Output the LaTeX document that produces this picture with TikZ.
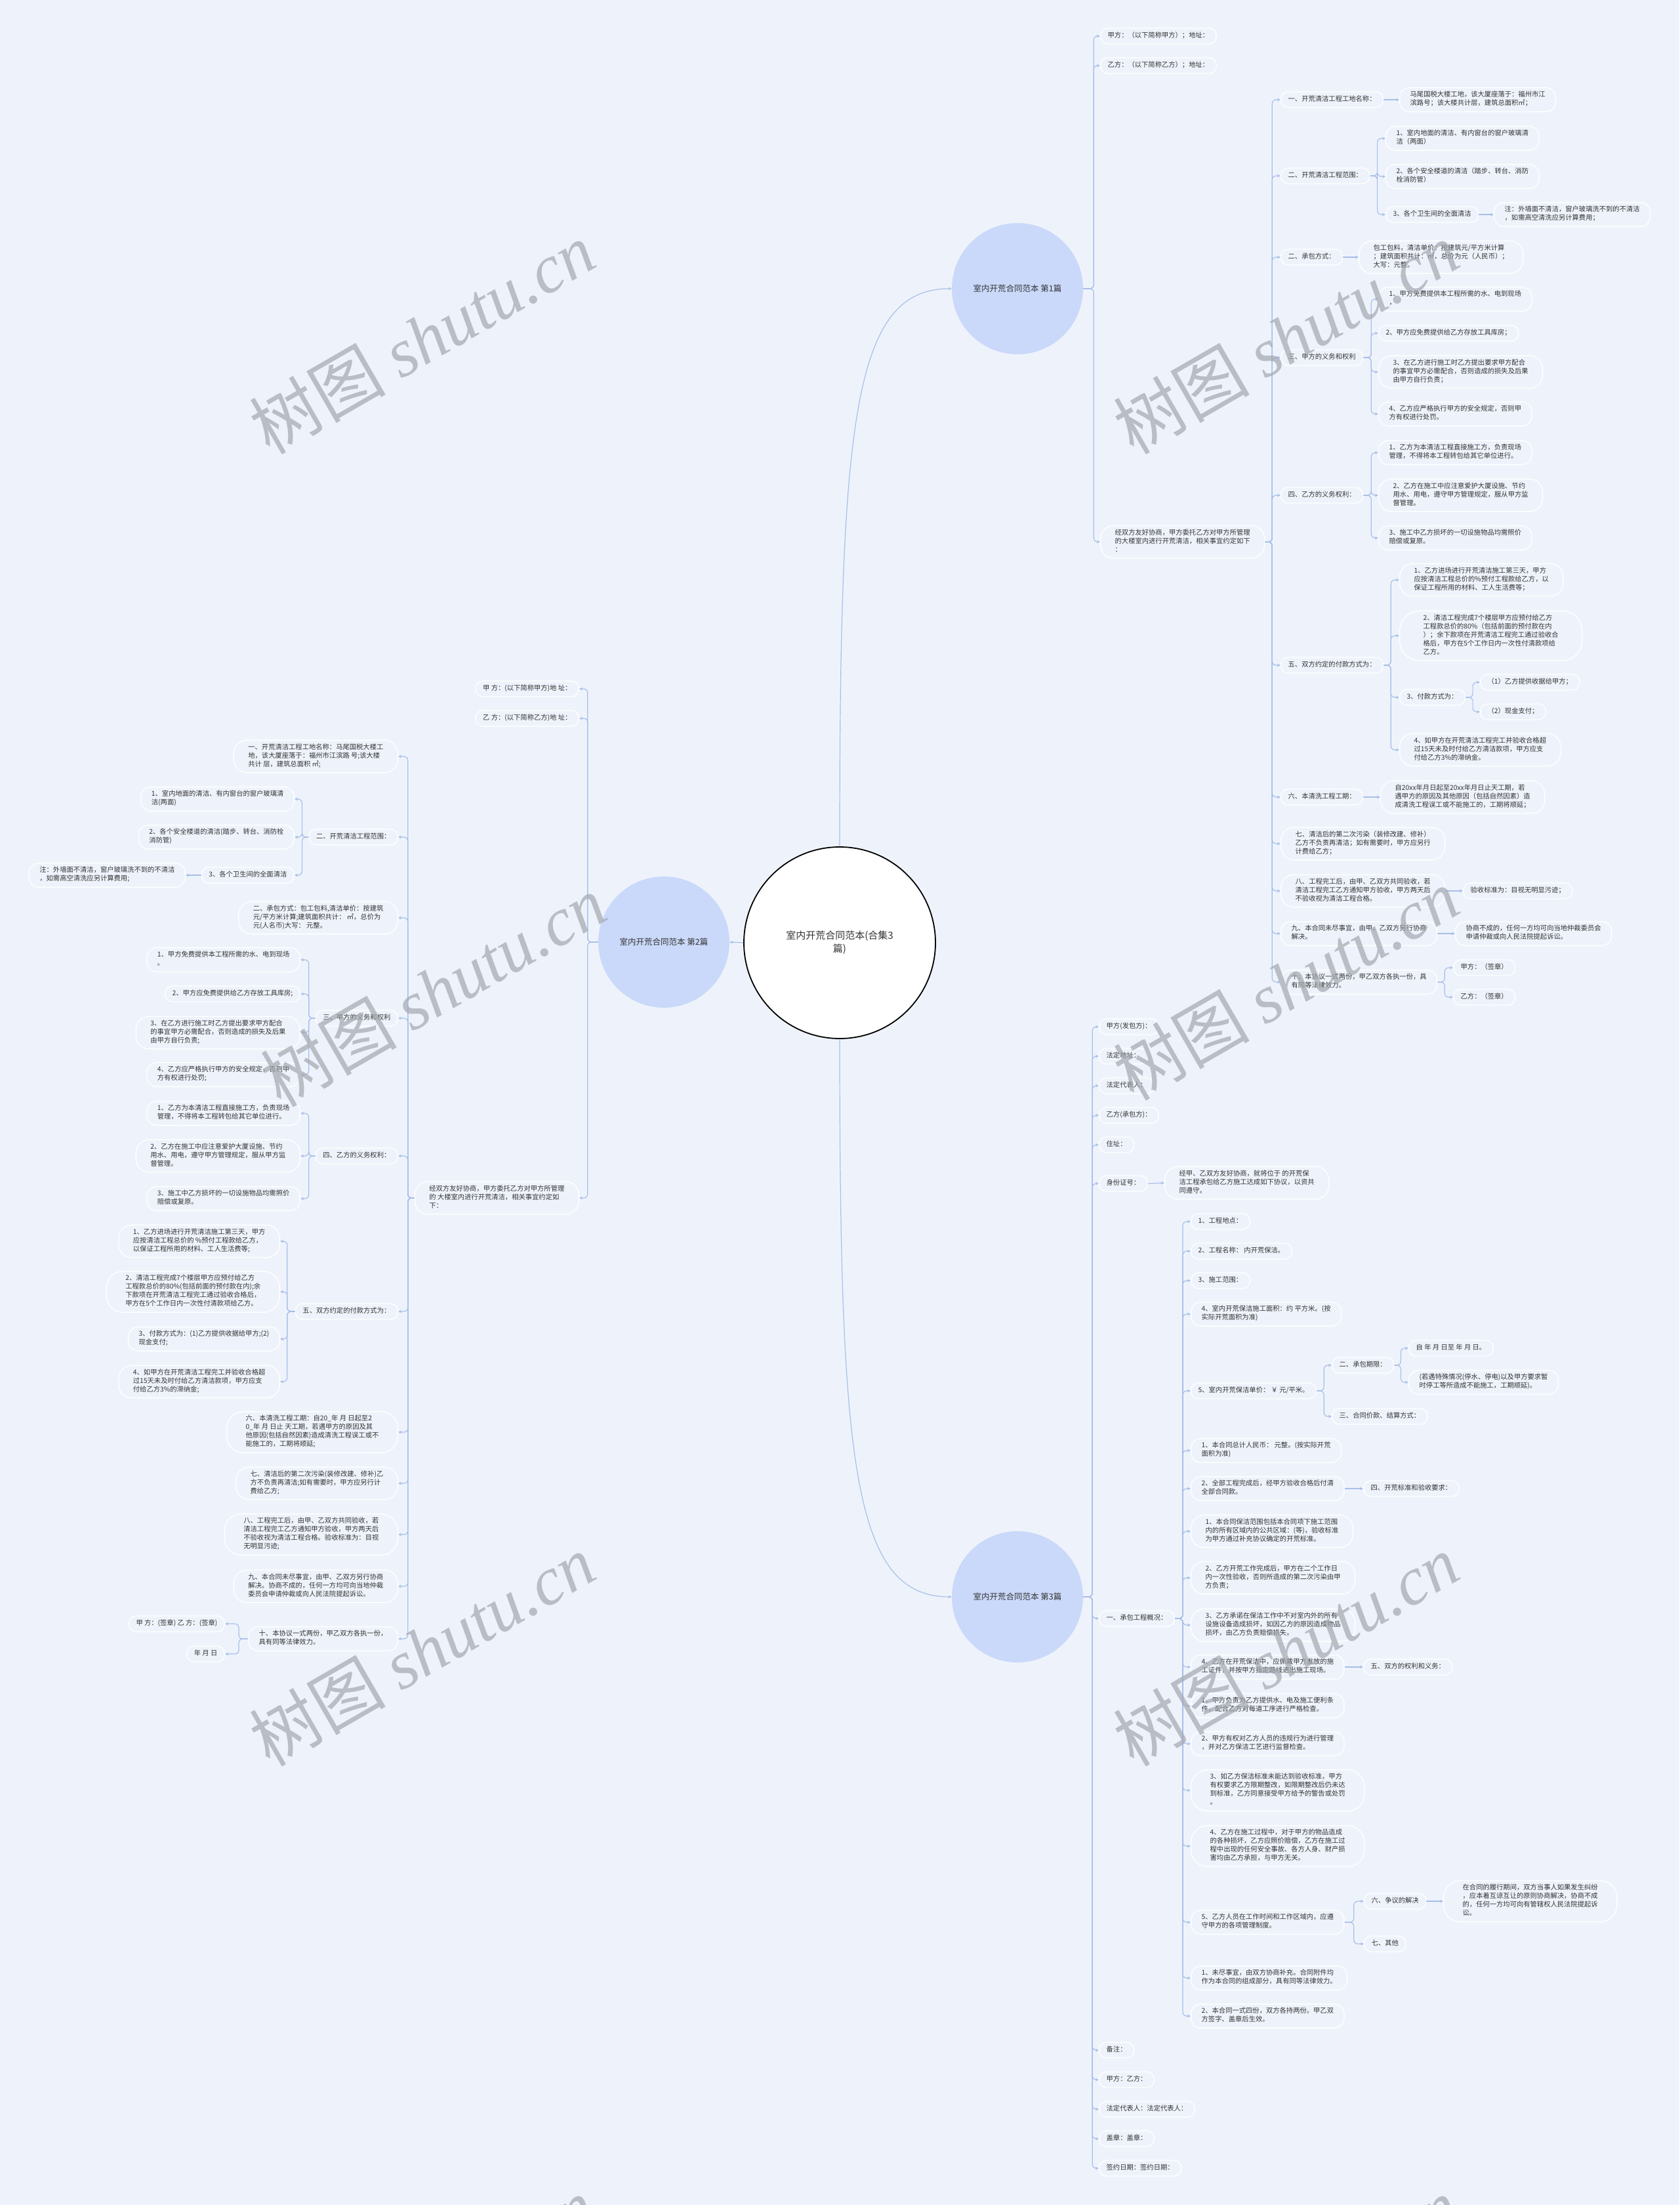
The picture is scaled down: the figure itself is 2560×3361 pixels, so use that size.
\documentclass[tikz,border=0pt]{standalone}
\usepackage{fontspec}
\setmainfont{Noto Sans CJK SC}
\newfontfamily\wmlat{Liberation Serif}
\newfontfamily\wmcjk{Noto Sans CJK SC}
\usetikzlibrary{arrows.meta}
\definecolor{bgc}{HTML}{EEF3FB}
\definecolor{lc}{HTML}{A8BEEA}
\definecolor{txt}{HTML}{333333}
\definecolor{brc}{HTML}{CAD9FA}
\definecolor{wmc}{HTML}{A3A7AF}
\newcommand\fsn{\fontsize{10.3}{13}\selectfont}
\newcommand\rcn[3]{\draw[conn] (#1.east) -- ++(#3,0) |- (#2.west);}
\newcommand\lcn[3]{\draw[conn] (#1.west) -- ++(-#3,0) |- (#2.east);}
\begin{document}
\begin{tikzpicture}[x=1pt,y=-1pt,
 bx/.style={draw=white, line width=1.3pt, fill=bgc, inner ysep=5.5pt, align=left, font=\fsn, text=txt, execute at begin node=\strut, execute at end node=\strut},
 L1/.style={bx, inner xsep=11pt, rounded corners=11pt},
 L2/.style={bx, inner xsep=16pt, rounded corners=15pt},
 L3/.style={bx, inner xsep=22pt, rounded corners=20pt},
 L4/.style={bx, inner xsep=29pt, rounded corners=25pt},
 L5/.style={bx, inner xsep=36pt, rounded corners=30pt},
 rw/.style={anchor=west}, le/.style={anchor=east},
 conn/.style={draw=lc, line width=1.2pt, rounded corners=6pt, -{Stealth[length=5pt,width=4.5pt]}},
 branch/.style={circle, fill=brc, minimum size=200pt, inner sep=0pt, font=\fontsize{12.5}{15}\selectfont, text=txt},
 wm/.style={rotate=30, text=wmc, opacity=0.7, font=\fontsize{104}{110}\selectfont}
]
\fill[bgc] (0,0) rectangle (2560,3361);
\useasboundingbox (0,0) rectangle (2560,3361);
\clip (0,0) rectangle (2560,3361);

% central and branch nodes
\node[circle, draw=black, line width=1.8pt, fill=white, minimum size=292pt, inner sep=0pt, align=center, font=\fontsize{15}{20}\selectfont, text=txt] (c) at (1280,1437) {室内开荒合同范本(合集3\\篇)};
\node[branch] (b1) at (1551,440) {室内开荒合同范本 第1篇};
\node[branch] (b2) at (1012,1436) {室内开荒合同范本 第2篇};
\node[branch] (b3) at (1551,2434) {室内开荒合同范本 第3篇};

% ---------- branch 1 ----------
\node[L1,rw] (a1) at (1677,55) {甲方：（以下简称甲方）；地址：};
\node[L1,rw] (a2) at (1677,100) {乙方：（以下简称乙方）；地址：};
\node[L3,rw] (a3) at (1677,826) {经双方友好协商，甲方委托乙方对甲方所管理\\的大楼室内进行开荒清洁，相关事宜约定如下\\：};
\node[L1,rw] (s1) at (1952,152) {一、开荒清洁工程工地名称：};
\node[L2,rw] (s1a) at (2133,152) {马尾国税大楼工地，该大厦座落于：福州市江\\滨路号；该大楼共计层，建筑总面积㎡；};
\node[L1,rw] (s2) at (1952,268) {二、开荒清洁工程范围：};
\node[L2,rw] (s2a) at (2112,211) {1、室内地面的清洁、有内窗台的窗户玻璃清\\洁（两面）};
\node[L2,rw] (s2b) at (2112,269) {2、各个安全楼道的清洁（踏步、转台、消防\\栓消防管）};
\node[L1,rw] (s2c) at (2112,327) {3、各个卫生间的全面清洁};
\node[L2,rw] (s2d) at (2277,327) {注：外墙面不清洁，窗户玻璃洗不到的不清洁\\，如需高空清洗应另计算费用；};
\node[L1,rw] (s3) at (1952,392) {二、承包方式：};
\node[L3,rw] (s3a) at (2071,392) {包工包料，清洁单价：按建筑元/平方米计算\\；建筑面积共计：㎡，总价为元（人民币）；\\大写：元整。};
\node[L1,rw] (s4) at (1952,545) {三、甲方的义务和权利};
\node[L2,rw] (s4a) at (2101,456) {1、甲方免费提供本工程所需的水、电到现场\\，};
\node[L1,rw] (s4b) at (2101,508) {2、甲方应免费提供给乙方存放工具库房；};
\node[L3,rw] (s4c) at (2101,567) {3、在乙方进行施工时乙方提出要求甲方配合\\的事宜甲方必需配合，否则造成的损失及后果\\由甲方自行负责；};
\node[L2,rw] (s4d) at (2101,631) {4、乙方应严格执行甲方的安全规定，否则甲\\方有权进行处罚。};
\node[L1,rw] (s5) at (1952,755) {四、乙方的义务权利：};
\node[L2,rw] (s5a) at (2101,690) {1、乙方为本清洁工程直接施工方，负责现场\\管理，不得将本工程转包给其它单位进行。};
\node[L3,rw] (s5b) at (2101,755) {2、乙方在施工中应注意爱护大厦设施、节约\\用水、用电，遵守甲方管理规定，服从甲方监\\督管理。};
\node[L2,rw] (s5c) at (2101,820) {3、施工中乙方损坏的一切设施物品均需照价\\赔偿或复原。};
\node[L1,rw] (s6) at (1952,1014) {五、双方约定的付款方式为：};
\node[L3,rw] (s6a) at (2133,884) {1、乙方进场进行开荒清洁施工第三天，甲方\\应按清洁工程总价的\%预付工程款给乙方，以\\保证工程所用的材料、工人生活费等；};
\node[L5,rw] (s6b) at (2133,969) {2、清洁工程完成7个楼层甲方应预付给乙方\\工程款总价的80\%（包括前面的预付款在内\\）；余下款项在开荒清洁工程完工通过验收合\\格后，甲方在5个工作日内一次性付清款项给\\乙方。};
\node[L1,rw] (s6c) at (2133,1063) {3、付款方式为：};
\node[L1,rw] (s6c1) at (2256,1040) {（1）乙方提供收据给甲方；};
\node[L1,rw] (s6c2) at (2256,1085) {（2）现金支付；};
\node[L3,rw] (s6d) at (2133,1143) {4、如甲方在开荒清洁工程完工并验收合格超\\过15天未及时付给乙方清洁款项，甲方应支\\付给乙方3\%的滞纳金。};
\node[L1,rw] (s7) at (1952,1215) {六、本清洗工程工期：};
\node[L3,rw] (s7a) at (2104,1215) {自20xx年月日起至20xx年月日止天工期，若\\遇甲方的原因及其他原因（包括自然因素）造\\成清洗工程误工或不能施工的，工期将顺延；};
\node[L3,rw] (s8) at (1952,1286) {七、清洁后的第二次污染（装修改建、修补）\\乙方不负责再清洁；如有需要时，甲方应另行\\计费给乙方；};
\node[L3,rw] (s9) at (1952,1358) {八、工程完工后，由甲、乙双方共同验收，若\\清洁工程完工乙方通知甲方验收，甲方两天后\\不验收视为清洁工程合格。};
\node[L1,rw] (s9a) at (2230,1358) {验收标准为：目视无明显污迹；};
\node[L2,rw] (s10) at (1952,1423) {九、本合同未尽事宜，由甲、乙双方另行协商\\解决。};
\node[L2,rw] (s10a) at (2218,1423) {协商不成的，任何一方均可向当地仲裁委员会\\申请仲裁或向人民法院提起诉讼。};
\node[L2,rw] (s11) at (1952,1497) {十、本协议一式两份，甲乙双方各执一份，具\\有同等法律效力。};
\node[L1,rw] (s11a) at (2215,1475) {甲方：（签章）};
\node[L1,rw] (s11b) at (2215,1520) {乙方：（签章）};

% ---------- branch 3 ----------
\node[L1,rw] (c1) at (1675,1565) {甲方(发包方)：};
\node[L1,rw] (c2) at (1675,1610) {法定地址：};
\node[L1,rw] (c3) at (1675,1655) {法定代表人：};
\node[L1,rw] (c4) at (1675,1700) {乙方(承包方)：};
\node[L1,rw] (c5) at (1675,1745) {住址：};
\node[L1,rw] (c6) at (1675,1804) {身份证号：};
\node[L3,rw] (c6a) at (1775,1803) {经甲、乙双方友好协商，就将位于 的开荒保\\洁工程承包给乙方施工达成如下协议，以资共\\同遵守。};
\node[L1,rw] (c7) at (1675,2467) {一、承包工程概况：};
\node[L1,rw] (c8) at (1675,3125) {备注：};
\node[L1,rw] (c9) at (1675,3170) {甲方：乙方：};
\node[L1,rw] (c10) at (1675,3215) {法定代表人：法定代表人：};
\node[L1,rw] (c11) at (1675,3260) {盖章：盖章：};
\node[L1,rw] (c12) at (1675,3305) {签约日期：签约日期：};

\node[L1,rw] (d1) at (1815,1862) {1、工程地点：};
\node[L1,rw] (d2) at (1815,1907) {2、工程名称： 内开荒保洁。};
\node[L1,rw] (d3) at (1815,1952) {3、施工范围：};
\node[L2,rw] (d4) at (1815,2003) {4、室内开荒保洁施工面积：约 平方米。(按\\实际开荒面积为准)};
\node[L1,rw] (d5) at (1815,2120) {5、室内开荒保洁单价： ￥ 元/平米。};
\node[L1,rw] (d5a) at (2030,2081) {二、承包期限：};
\node[L1,rw] (d5a1) at (2147,2055) {自 年 月 日至 年 月 日。};
\node[L2,rw] (d5a2) at (2147,2107) {(若遇特殊情况(停水、停电)以及甲方要求暂\\时停工等所造成不能施工，工期顺延)。};
\node[L1,rw] (d5b) at (2030,2159) {三、合同价款、结算方式：};
\node[L2,rw] (d6) at (1815,2211) {1、本合同总计人民币： 元整。(按实际开荒\\面积为准)};
\node[L2,rw] (d7) at (1815,2269) {2、全部工程完成后，经甲方验收合格后付清\\全部合同款。};
\node[L1,rw] (d7a) at (2078,2269) {四、开荒标准和验收要求：};
\node[L3,rw] (d8) at (1815,2334) {1、本合同保洁范围包括本合同项下施工范围\\内的所有区域内的公共区域：(等)，验收标准\\为甲方通过补充协议确定的开荒标准。};
\node[L3,rw] (d9) at (1815,2405) {2、乙方开荒工作完成后，甲方在二个工作日\\内一次性验收，否则所造成的第二次污染由甲\\方负责；};
\node[L3,rw] (d10) at (1815,2477) {3、乙方承诺在保洁工作中不对室内外的所有\\设施设备造成损坏，如因乙方的原因造成物品\\损坏，由乙方负责赔偿损失。};
\node[L2,rw] (d11) at (1815,2541) {4、乙方在开荒保洁中，应佩戴甲方发放的施\\工证件，并按甲方指定路线进出施工现场。};
\node[L1,rw] (d11a) at (2078,2541) {五、双方的权利和义务：};
\node[L2,rw] (d12) at (1815,2600) {1、甲方负责为乙方提供水、电及施工便利条\\件，配合乙方对每道工序进行严格检查。};
\node[L2,rw] (d13) at (1815,2658) {2、甲方有权对乙方人员的违规行为进行管理\\，并对乙方保洁工艺进行监督检查。};
\node[L4,rw] (d14) at (1815,2729) {3、如乙方保洁标准未能达到验收标准，甲方\\有权要求乙方限期整改，如限期整改后仍未达\\到标准，乙方同意接受甲方给予的警告或处罚\\。};
\node[L4,rw] (d15) at (1815,2814) {4、乙方在施工过程中，对于甲方的物品造成\\的各种损坏，乙方应照价赔偿，乙方在施工过\\程中出现的任何安全事故、各方人身、财产损\\害均由乙方承担，与甲方无关。};
\node[L2,rw] (d16) at (1815,2930) {5、乙方人员在工作时间和工作区域内，应遵\\守甲方的各项管理制度。};
\node[L1,rw] (d16a) at (2079,2898) {六、争议的解决};
\node[L4,rw] (d16a1) at (2200,2898) {在合同的履行期间，双方当事人如果发生纠纷\\，应本着互谅互让的原则协商解决，协商不成\\的，任何一方均可向有管辖权人民法院提起诉\\讼。};
\node[L1,rw] (d16b) at (2079,2963) {七、其他};
\node[L2,rw] (d17) at (1815,3015) {1、未尽事宜，由双方协商补充。合同附件均\\作为本合同的组成部分，具有同等法律效力。};
\node[L2,rw] (d18) at (1815,3073) {2、本合同一式四份，双方各持两份。甲乙双\\方签字、盖章后生效。};

% ---------- branch 2 ----------
\node[L1,le] (e1) at (883,1050) {甲 方：(以下简称甲方)地 址：};
\node[L1,le] (e2) at (883,1095) {乙 方：(以下简称乙方)地 址：};
\node[L3,le] (e3) at (883,1826) {经双方友好协商，甲方委托乙方对甲方所管理\\的 大楼室内进行开荒清洁，相关事宜约定如\\下：};
\node[L3,le] (f1) at (607,1153) {一、开荒清洁工程工地名称：马尾国税大楼工\\地，该大厦座落于：福州市江滨路 号;该大楼\\共计 层，建筑总面积 ㎡;};
\node[L1,le] (f2) at (607,1276) {二、开荒清洁工程范围：};
\node[L2,le] (f2a) at (449,1218) {1、室内地面的清洁、有内窗台的窗户玻璃清\\洁(两面)};
\node[L2,le] (f2b) at (449,1276) {2、各个安全楼道的清洁(踏步、转台、消防栓\\消防管)};
\node[L1,le] (f2c) at (449,1334) {3、各个卫生间的全面清洁};
\node[L2,le] (f2d) at (283,1334) {注：外墙面不清洁，窗户玻璃洗不到的不清洁\\，如需高空清洗应另计算费用;};
\node[L3,le] (f3) at (607,1399) {二、承包方式：包工包料,清洁单价：按建筑\\元/平方米计算;建筑面积共计： ㎡，总价为\\元(人名币)大写： 元整。};
\node[L1,le] (f4) at (607,1552) {三、甲方的义务和权利};
\node[L2,le] (f4a) at (458,1463) {1、甲方免费提供本工程所需的水、电到现场\\。};
\node[L1,le] (f4b) at (458,1515) {2、甲方应免费提供给乙方存放工具库房;};
\node[L3,le] (f4c) at (458,1574) {3、在乙方进行施工时乙方提出要求甲方配合\\的事宜甲方必需配合，否则造成的损失及后果\\由甲方自行负责;};
\node[L2,le] (f4d) at (458,1638) {4、乙方应严格执行甲方的安全规定，否则甲\\方有权进行处罚;};
\node[L1,le] (f5) at (607,1762) {四、乙方的义务权利：};
\node[L2,le] (f5a) at (458,1697) {1、乙方为本清洁工程直接施工方，负责现场\\管理，不得将本工程转包给其它单位进行。};
\node[L3,le] (f5b) at (458,1762) {2、乙方在施工中应注意爱护大厦设施、节约\\用水、用电，遵守甲方管理规定，服从甲方监\\督管理。};
\node[L2,le] (f5c) at (458,1827) {3、施工中乙方损坏的一切设施物品均需照价\\赔偿或复原。};
\node[L1,le] (f6) at (607,1999) {五、双方约定的付款方式为：};
\node[L3,le] (f6a) at (427,1892) {1、乙方进场进行开荒清洁施工第三天，甲方\\应按清洁工程总价的 \%预付工程款给乙方，\\以保证工程所用的材料、工人生活费等;};
\node[L4,le] (f6b) at (427,1969) {2、清洁工程完成7个楼层甲方应预付给乙方\\工程款总价的80\%(包括前面的预付款在内);余\\下款项在开荒清洁工程完工通过验收合格后，\\甲方在5个工作日内一次性付清款项给乙方。};
\node[L2,le] (f6c) at (427,2041) {3、付款方式为：(1)乙方提供收据给甲方;(2)\\现金支付;};
\node[L3,le] (f6d) at (427,2106) {4、如甲方在开荒清洁工程完工并验收合格超\\过15天未及时付给乙方清洁款项，甲方应支\\付给乙方3\%的滞纳金;};
\node[L4,le] (f7) at (607,2183) {六、本清洗工程工期：自20\_年 月 日起至2\\0\_年 月 日止 天工期，若遇甲方的原因及其\\他原因(包括自然因素)造成清洗工程误工或不\\能施工的，工期将顺延;};
\node[L3,le] (f8) at (607,2261) {七、清洁后的第二次污染(装修改建、修补)乙\\方不负责再清洁;如有需要时，甲方应另行计\\费给乙方;};
\node[L4,le] (f9) at (607,2339) {八、工程完工后，由甲、乙双方共同验收，若\\清洁工程完工乙方通知甲方验收，甲方两天后\\不验收视为清洁工程合格。验收标准为：目视\\无明显污迹;};
\node[L3,le] (f10) at (607,2418) {九、本合同未尽事宜，由甲、乙双方另行协商\\解决。协商不成的，任何一方均可向当地仲裁\\委员会申请仲裁或向人民法院提起诉讼。};
\node[L2,le] (f11) at (607,2498) {十、本协议一式两份，甲乙双方各执一份，\\具有同等法律效力。};
\node[L1,le] (f11a) at (343,2475) {甲 方：(签章) 乙 方：(签章)};
\node[L1,le] (f11b) at (343,2521) {年 月 日};

% ---------- connectors ----------
\draw[conn] (c.north) .. controls (1280,640) and (1300,440) .. (b1.west);
\draw[conn] (c.south) .. controls (1280,2234) and (1300,2434) .. (b3.west);
\draw[conn] (c.west) -- (b2.east);

\foreach \n in {a1,a2,a3} {\rcn{b1}{\n}{16}}
\foreach \n in {s1,s2,s3,s4,s5,s6,s7,s8,s9,s10,s11} {\rcn{a3}{\n}{11}}
\draw[conn] (s1.east) -- (s1a.west);
\foreach \n in {s2a,s2b,s2c} {\rcn{s2}{\n}{11}}
\draw[conn] (s2c.east) -- (s2d.west);
\draw[conn] (s3.east) -- (s3a.west);
\foreach \n in {s4a,s4b,s4c,s4d} {\rcn{s4}{\n}{12}}
\foreach \n in {s5a,s5b,s5c} {\rcn{s5}{\n}{12}}
\foreach \n in {s6a,s6b,s6c,s6d} {\rcn{s6}{\n}{11}}
\foreach \n in {s6c1,s6c2} {\rcn{s6c}{\n}{11}}
\draw[conn] (s7.east) -- (s7a.west);
\draw[conn] (s9.east) -- (s9a.west);
\draw[conn] (s10.east) -- (s10a.west);
\foreach \n in {s11a,s11b} {\rcn{s11}{\n}{11}}

\foreach \n in {c1,c2,c3,c4,c5,c6,c7,c8,c9,c10,c11,c12} {\rcn{b3}{\n}{14}}
\draw[conn] (c6.east) -- (c6a.west);
\foreach \n in {d1,d2,d3,d4,d5,d6,d7,d8,d9,d10,d11,d12,d13,d14,d15,d16,d17,d18} {\rcn{c7}{\n}{12}}
\foreach \n in {d5a,d5b} {\rcn{d5}{\n}{11}}
\foreach \n in {d5a1,d5a2} {\rcn{d5a}{\n}{10}}
\draw[conn] (d7.east) -- (d7a.west);
\draw[conn] (d11.east) -- (d11a.west);
\foreach \n in {d16a,d16b} {\rcn{d16}{\n}{14}}
\draw[conn] (d16a.east) -- (d16a1.west);

\foreach \n in {e1,e2,e3} {\lcn{b2}{\n}{16}}
\foreach \n in {f1,f2,f3,f4,f5,f6,f7,f8,f9,f10,f11} {\lcn{e3}{\n}{10}}
\foreach \n in {f2a,f2b,f2c} {\lcn{f2}{\n}{10}}
\draw[conn] (f2c.west) -- (f2d.east);
\foreach \n in {f4a,f4b,f4c,f4d} {\lcn{f4}{\n}{10}}
\foreach \n in {f5a,f5b,f5c} {\lcn{f5}{\n}{10}}
\foreach \n in {f6a,f6b,f6c,f6d} {\lcn{f6}{\n}{12}}
\foreach \n in {f11a,f11b} {\lcn{f11}{\n}{14}}

% ---------- watermarks ----------
\foreach \wx/\wy/\k in {643/515/1,1960/515/2,660/1510/3,1960/1500/4,643/2515/5,1960/2515/6,643/3495/7,1960/3495/8} {
  \node[wm] (wm\k) at (\wx,\wy) {\wmcjk 树图 \wmlat\itshape shutu.cn};
}
\end{tikzpicture}
\end{document}
